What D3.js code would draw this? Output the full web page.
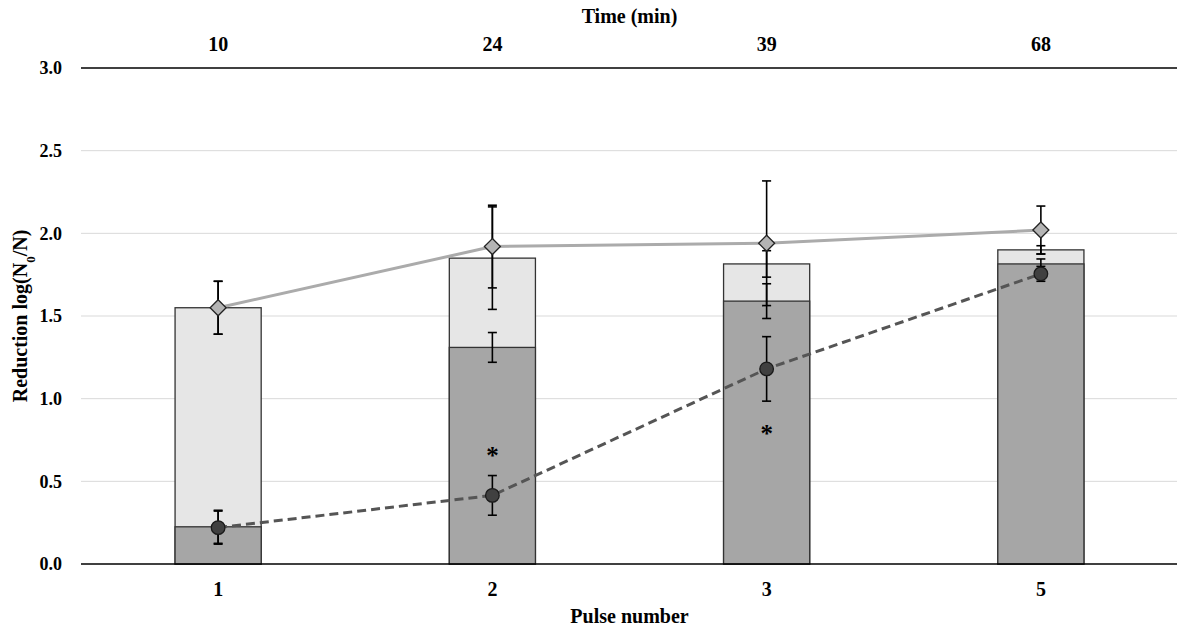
<!DOCTYPE html>
<html><head><meta charset="utf-8">
<script src="https://cdn.jsdelivr.net/npm/d3@7"></script>
<style>body{margin:0;background:#fff}svg text{font-family:"Liberation Serif","Times New Roman",serif;font-weight:bold;fill:#000}</style>
</head><body><svg id="c" width="1177" height="632"></svg>
<script>
const pulses = ["1","2","3","5"];
const times = ["10","24","39","68"];
const yTicks = [0,0.5,1.0,1.5,2.0,2.5,3.0];
const barTotal = [1.55,1.85,1.815,1.90];
const barTotalErr = [0.16,0.31,0.08,0.025];
const barDark = [0.225,1.31,1.59,1.815];
const barDarkErr = [0.10,0.09,0.105,0.03];
const diamondVals = [1.55,1.92,1.94,2.02];
const diamondErr = [0.16,0.25,0.377,0.145];
const circleVals = [0.22,0.415,1.18,1.755];
const circleErr = [0.10,0.12,0.195,0.045];
const starVals = [null,0.665,0.80,null];

const svg = d3.select("#c");
const L=81,R=1178,T=68,B=564;
const x = d3.scaleBand().domain(pulses).range([L,R]).paddingInner(0.686).paddingOuter(0.343);
const xc = d => x(d)+x.bandwidth()/2;
const y = d3.scaleLinear().domain([0,3]).range([B,T]);

// gridlines
svg.append("g").selectAll("line").data(yTicks.filter(t=>t>0&&t<3)).join("line")
  .attr("x1",L).attr("x2",R).attr("y1",d=>y(d)).attr("y2",d=>y(d))
  .attr("stroke","#d9d9d9").attr("stroke-width",1);

// y axis labels
const ya = svg.append("g").attr("transform",`translate(${L},0)`)
  .call(d3.axisLeft(y).tickValues(yTicks).tickFormat(d3.format(".1f")).tickSize(0).tickPadding(19));
ya.select(".domain").remove();
ya.selectAll("text").style("font-size","18px").attr("font-family",null);

// bars
const bars = svg.append("g");
bars.selectAll("rect.t").data(pulses).join("rect").attr("class","t")
  .attr("x",d=>x(d)).attr("width",x.bandwidth())
  .attr("y",(d,i)=>y(barTotal[i])).attr("height",(d,i)=>y(0)-y(barTotal[i]))
  .attr("fill","#e6e6e6").attr("stroke","#333").attr("stroke-width",1.3);
bars.selectAll("rect.d").data(pulses).join("rect").attr("class","d")
  .attr("x",d=>x(d)).attr("width",x.bandwidth())
  .attr("y",(d,i)=>y(barDark[i])).attr("height",(d,i)=>y(0)-y(barDark[i]))
  .attr("fill","#a6a6a6").attr("stroke","#333").attr("stroke-width",1.3);

function errBars(vals, errs){
  const g = svg.append("g").attr("stroke","#000").attr("stroke-width",1.6);
  pulses.forEach((p,i)=>{
    const cx = xc(p), hi=y(vals[i]+errs[i]), lo=y(vals[i]-errs[i]);
    g.append("line").attr("x1",cx).attr("x2",cx).attr("y1",hi).attr("y2",lo);
    g.append("line").attr("x1",cx-4.5).attr("x2",cx+4.5).attr("y1",hi).attr("y2",hi);
    g.append("line").attr("x1",cx-4.5).attr("x2",cx+4.5).attr("y1",lo).attr("y2",lo);
  });
}
errBars(barTotal,barTotalErr);
errBars(barDark,barDarkErr);

// axes lines
svg.append("line").attr("x1",L).attr("x2",R).attr("y1",B).attr("y2",B).attr("stroke","#000").attr("stroke-width",1.5);
svg.append("line").attr("x1",L).attr("x2",R).attr("y1",T).attr("y2",T).attr("stroke","#000").attr("stroke-width",1.5);

// lines
const line = d3.line().x((d,i)=>xc(pulses[i])).y(d=>y(d));
svg.append("path").datum(diamondVals).attr("d",line).attr("fill","none").attr("stroke","#ababab").attr("stroke-width",3);
svg.append("path").datum(circleVals).attr("d",line).attr("fill","none").attr("stroke","#555").attr("stroke-width",3).attr("stroke-dasharray","9,5");

errBars(diamondVals,diamondErr);
errBars(circleVals,circleErr);

// markers
svg.append("g").selectAll("path").data(diamondVals).join("path")
  .attr("d",(d,i)=>{const cx=xc(pulses[i]),cy=y(d),s=8;return `M${cx},${cy-s}L${cx+s},${cy}L${cx},${cy+s}L${cx-s},${cy}Z`;})
  .attr("fill","#b4b4b4").attr("stroke","#222").attr("stroke-width",1.3);
svg.append("g").selectAll("circle").data(circleVals).join("circle")
  .attr("cx",(d,i)=>xc(pulses[i])).attr("cy",d=>y(d)).attr("r",6.8)
  .attr("fill","#404040").attr("stroke","#1a1a1a").attr("stroke-width",1.3);

// asterisks
starVals.forEach((v,i)=>{ if(v===null) return;
  svg.append("text").attr("x",xc(pulses[i])).attr("y",y(v)+10).attr("text-anchor","middle")
    .style("font-size","25px").text("*");
});

// x axis bottom
const xb = svg.append("g").attr("transform",`translate(0,${B})`).call(d3.axisBottom(x).tickSize(0).tickPadding(18));
xb.select(".domain").remove();
xb.selectAll("text").style("font-size","20px").attr("font-family",null);
// x axis top (time)
const xTop = d3.scaleBand().domain(times).range([L,R]).paddingInner(0.686).paddingOuter(0.343);
const xt = svg.append("g").attr("transform",`translate(0,${T})`).call(d3.axisTop(xTop).tickSize(0).tickPadding(17));
xt.select(".domain").remove();
xt.selectAll("text").style("font-size","20px").attr("font-family",null);

// titles
svg.append("text").attr("x",(L+R)/2).attr("y",23).attr("text-anchor","middle").style("font-size","20px").text("Time (min)");
svg.append("text").attr("x",(L+R)/2).attr("y",623).attr("text-anchor","middle").style("font-size","20px").text("Pulse number");
const yt = svg.append("text").attr("transform",`translate(27,${(T+B)/2}) rotate(-90)`).attr("text-anchor","middle").style("font-size","20px");
yt.append("tspan").text("Reduction log(N");
yt.append("tspan").attr("baseline-shift","sub").style("font-size","13px").text("0");
yt.append("tspan").text("/N)");
</script></body></html>
